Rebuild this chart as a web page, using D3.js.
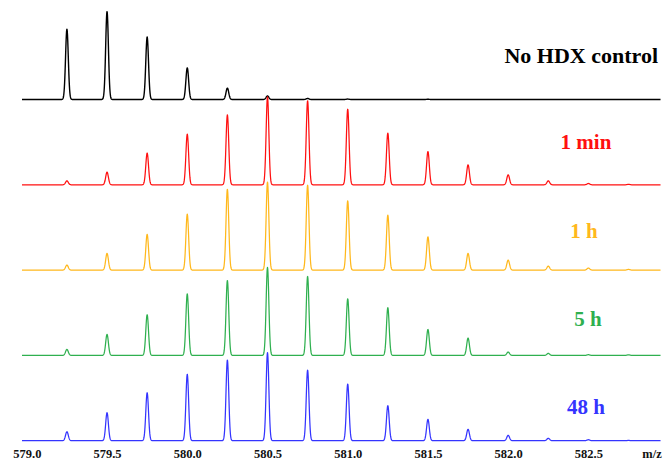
<!DOCTYPE html>
<html>
<head>
<meta charset="utf-8">
<script src="https://cdn.jsdelivr.net/npm/d3@7"></script>
<style>
  body { margin: 0; background: #fff; }
  text { font-family: "Liberation Serif", "Times New Roman", serif; font-weight: bold; }
  .x-axis text { font-size: 12.5px; font-weight: bold; font-family: "Liberation Serif", serif; }
</style>
</head>
<body>
<div id="chart"></div>
<script>
// isotope peak positions (m/z) and relative intensities (%) per sample
const mz = [579.25, 579.50, 579.75, 580.00, 580.25, 580.50, 580.75, 581.00,
            581.25, 581.50, 581.75, 582.00, 582.25, 582.50, 582.75];

const samples = ["No HDX control", "1 min", "1 h", "5 h", "48 h"];
const colors = ["#000000", "#ff1010", "#ffb81c", "#2fb04f", "#3434ff"];

const noHdx = [80, 100, 71, 36, 13, 4, 1.2, 0.5, 0, 0.3, 0, 0, 0, 0, 0];
const min1  = [4.5, 14.4, 36, 57.6, 79.5, 100, 95.5, 86, 58.8, 37.8, 22.7, 11.4, 4.5, 1.5, 0.5];
const h1    = [5.7, 19, 40.6, 63.6, 92, 100, 96.6, 78.8, 62.5, 37.8, 19, 11.4, 4.5, 2.3, 0.8];
const h5    = [6.8, 23.9, 46.2, 70, 85.2, 100, 89.8, 64.4, 54.2, 29.5, 19.7, 3.8, 2.3, 0.8, 0.7];
const h48   = [10.2, 31.8, 54.5, 75.5, 91.7, 100, 80.3, 64.4, 39.8, 24.3, 13, 6.1, 2.7, 1.1, 0.3];
const series = [noHdx, min1, h1, h5, h48];

const tickLabels = [579.0, 579.5, 580.0, 580.5, 581.0, 581.5, 582.0, 582.5];

// ---- layout
const W = 664, H = 462;
const svg = d3.select("#chart").append("svg")
    .attr("width", W).attr("height", H);

const x = d3.scaleLinear().domain([578.97, 582.95]).range([22, 660.6]);

// baseline of each stacked spectrum
const base = d3.scalePoint().domain(samples).range([99.5, 440.7]);
const inten = d3.scaleLinear().domain([0, 100]).range([0, 88]);

const sigma = 0.0085;
const step = 0.0015;
const grid = d3.range(x.domain()[0], x.domain()[1] + step / 2, step);

function profile(vals) {
    return grid.map(m => {
        let s = 0;
        mz.forEach((c, i) => {
            const d = (m - c) / sigma;
            if (Math.abs(d) < 6) s += vals[i] * Math.exp(-0.5 * d * d);
        });
        return [m, s];
    });
}

samples.forEach((name, k) => {
    const y0 = base(name);
    const line = d3.line()
        .x(d => x(d[0]))
        .y(d => y0 - inten(d[1]));
    svg.append("path")
        .datum(profile(series[k]))
        .attr("d", line)
        .attr("fill", "none")
        .attr("stroke", colors[k])
        .attr("stroke-width", k === 0 ? 1.4 : 1.25)
        .attr("stroke-linejoin", "round");
});

// sample labels
svg.append("text")
    .attr("x", 658).attr("y", 62.5)
    .attr("text-anchor", "end")
    .attr("font-size", 22)
    .attr("fill", colors[0])
    .text(samples[0]);

const labelPos = [null, [586, 149], [584, 237.5], [588, 325.5], [586, 413.5]];
samples.forEach((name, k) => {
    if (k === 0) return;
    svg.append("text")
        .attr("x", labelPos[k][0]).attr("y", labelPos[k][1])
        .attr("text-anchor", "middle")
        .attr("font-size", 21)
        .attr("fill", colors[k])
        .text(name);
});

// x axis (labels only, spectrum baseline acts as the axis)
const ax = svg.append("g")
    .attr("class", "x-axis")
    .attr("transform", `translate(0,${base(samples[4]) + 5})`)
    .call(d3.axisBottom(x).tickValues(tickLabels).tickFormat(d3.format(".1f")).tickSize(0).tickPadding(3));
ax.select(".domain").remove();
ax.selectAll("text").attr("fill", "#111");

svg.append("text")
    .attr("x", 652).attr("y", 457.5)
    .attr("text-anchor", "middle")
    .style("font-size", "12.5px")
    .attr("fill", "#111")
    .text("m/z");
</script>
</body>
</html>
